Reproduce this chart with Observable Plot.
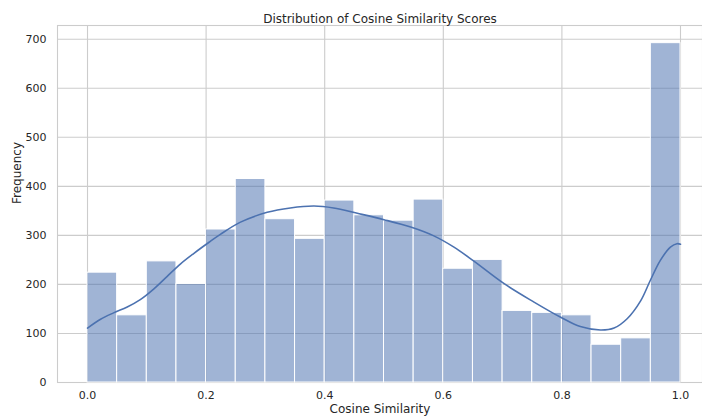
<!DOCTYPE html>
<html>
<head>
<meta charset="utf-8">
<script src="https://cdn.jsdelivr.net/npm/d3@7"></script>
<script src="https://cdn.jsdelivr.net/npm/@observablehq/plot@0.6"></script>
<style>
  html, body { margin: 0; padding: 0; background: #fff; overflow: hidden; }
  svg { display: block; }
</style>
</head>
<body>
<div id="chart"></div>
<script>
const binStarts = [0.00, 0.05, 0.10, 0.15, 0.20, 0.25, 0.30, 0.35, 0.40, 0.45,
                   0.50, 0.55, 0.60, 0.65, 0.70, 0.75, 0.80, 0.85, 0.90, 0.95];
const binWidth = 0.05;
const counts = [224, 137, 247, 201, 312, 415, 333, 293, 371, 341,
                330, 373, 232, 250, 146, 142, 137, 77, 90, 692];

const kdeX = [0.000, 0.022, 0.044, 0.067, 0.089, 0.112, 0.134, 0.157, 0.179, 0.205,
              0.224, 0.258, 0.303, 0.342, 0.382, 0.415, 0.455, 0.500, 0.545, 0.584,
              0.618, 0.651, 0.702, 0.753, 0.798, 0.831, 0.865, 0.888, 0.910, 0.933,
              0.949, 0.966, 0.983, 0.994, 1.000];
const kdeY = [111, 129, 142, 154, 169, 191, 216, 242, 263, 286,
              302, 327, 347, 356, 360, 356, 345, 332, 317, 299,
              276, 248, 202, 164, 133, 114, 107, 111, 130, 167,
              208, 249, 276, 283, 282];

const xTicks = [0, 0.2, 0.4, 0.6, 0.8, 1.0];
const yTicks = [0, 100, 200, 300, 400, 500, 600, 700];

const title = "Distribution of Cosine Similarity Scores";
const xLabel = "Cosine Similarity";
const yLabel = "Frequency";

const bins = binStarts.map((s, i) => ({x1: s, x2: s + binWidth, count: counts[i]}));
const kde = kdeX.map((x, i) => ({x, y: kdeY[i]}));

const ink = "#262626";
const gridColor = "#cccccc";
const blue = "#4C72B0";

const chart = Plot.plot({
  width: 702,
  height: 417,
  marginLeft: 57,
  marginRight: 0,
  marginTop: 25,
  marginBottom: 35,
  style: {fontFamily: "DejaVu Sans", fontSize: "11px", color: ink, background: "#fff"},
  x: {domain: [-0.0506, 1.0371]},
  y: {domain: [0, 728]},
  marks: [
    Plot.gridX(xTicks, {stroke: gridColor, strokeOpacity: 1, strokeWidth: 1.1}),
    Plot.gridY(yTicks, {stroke: gridColor, strokeOpacity: 1, strokeWidth: 1.1}),
    Plot.frame({stroke: gridColor, strokeWidth: 1.1}),
    Plot.rectY(bins, {x1: "x1", x2: "x2", y: "count", fill: blue, fillOpacity: 0.53, stroke: "#fff", strokeWidth: 1}),
    Plot.line(kde, {x: "x", y: "y", stroke: blue, strokeWidth: 1.6, curve: "catmull-rom"}),
    Plot.axisX(xTicks, {tickSize: 0, tickPadding: 9, tickFormat: d3.format(".1f"), label: null, fill: ink, fontSize: 11}),
    Plot.axisY(yTicks, {tickSize: 0, tickPadding: 11, label: null, fill: ink, fontSize: 11}),
    Plot.text([title], {frameAnchor: "top", dy: -11, fill: ink, fontSize: 12}),
    Plot.text([xLabel], {frameAnchor: "bottom", dy: 30, fill: ink, fontSize: 12}),
    Plot.text([yLabel], {frameAnchor: "left", dx: -40, rotate: -90, fill: ink, fontSize: 12})
  ]
});
document.getElementById("chart").appendChild(chart);
</script>
</body>
</html>
